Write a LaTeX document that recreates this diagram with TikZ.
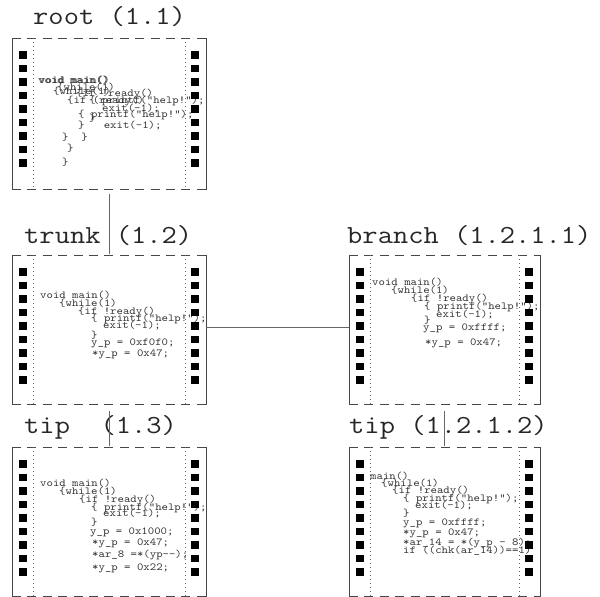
\documentclass[tikz,border=0pt]{standalone}
\usepackage{graphicx}
\usetikzlibrary{fit}
\tikzset{
  x=1pt, y=-1pt,
  side/.style={line width=1pt, draw=black!72, line cap=rect},
  edgedash/.style={line width=1pt, draw=black!72, dash pattern=on 9pt off 6.4pt},
  perf/.style={fill=black},
  guide/.style={draw=black!60, line width=0.7pt, dash pattern=on 0.8pt off 3.2pt},
  link/.style={draw=black!60, line width=0.9pt},
  lbl/.style={font=\fontsize{26}{26}\selectfont\ttfamily, text=black!85, inner sep=0pt, anchor=base west, xscale=1.14},
  code/.style={font=\fontsize{10.7}{10.7}\selectfont\ttfamily, text=black!80, inner sep=0pt, anchor=base west, xscale=1.14},
}
\newcommand\film[5]{%
  \coordinate (#1-nw) at (#2,#3);
  \coordinate (#1-se) at (#4,#5);
  \node[inner sep=0pt, fit=(#1-nw)(#1-se)] (#1) {};
  \draw[side] (#2,#3) -- (#2,#5) (#4,#3) -- (#4,#5);
  \draw[edgedash] (#2,#3) -- (#4,#3) (#2,#5) -- (#4,#5);
  \draw[guide] (#2+21,#3) -- (#2+21,#5) (#4-21,#3) -- (#4-21,#5);
}
\newcommand\perfs[4]{%
  \foreach \k in {0,...,8} {
    \fill[perf] (#1+7,#2+13+13.5*\k) rectangle ++(8,7.5);
    \fill[perf] (#3-15.5,#2+13+13.5*\k) rectangle ++(8,7.5);
  }
}
\newcommand\codeln[4]{\node[code] (#1) at (#2,#3) {#4};}
\begin{document}
\begin{tikzpicture}
\useasboundingbox (0,0) rectangle (600,597);

% frames
\film{root}{12}{38}{206}{189}
\film{trunk}{12}{255}{206}{404}
\film{branch}{349}{255}{540}{404}
\film{tipa}{12}{447}{206}{596}
\film{tipb}{349}{447}{540}{596}

% labels
\node[lbl] (lroot) at (33,24) {root (1.1)};
\node[lbl] (ltrunk) at (24,243) {trunk (1.2)};
\node[lbl] (lbranch) at (347,243) {branch (1.2.1.1)};
\node[lbl] (ltipa) at (24,433) {tip\ \ (1.3)};
\node[lbl] (ltipb) at (349,433) {tip (1.2.1.2)};

% connectors
\draw[link] ([yshift=-5pt]root.south) -- ([yshift=1pt]trunk.north);
\draw[link] ([yshift=-7pt]trunk.south) -- ([yshift=1pt]tipa.north);
\draw[link] ([yshift=-7pt]branch.south) -- ([yshift=1pt]tipb.north);
\draw[link] ([yshift=2pt]trunk.east) -- ([yshift=2pt]trunk.east -| branch.west);

% root code (two superimposed versions)
\codeln{ra1}{39}{83}{void main()}
\codeln{ra2}{53}{94}{\{while(1)}
\codeln{ra3}{67}{103}{\{if (ready()}
\codeln{ra4}{78}{117}{\{ printf("help!");}
\codeln{ra5}{78}{128}{\}\ \ \ exit(-1);}
\codeln{ra6}{62}{140}{\}\ \ \}}
\codeln{ra7}{67}{151}{\}}
\codeln{ra8}{62}{165}{\}}
\codeln{rb1}{38}{83}{void main()}
\codeln{rb2}{57}{90}{\{while(1)}
\codeln{rb3}{76}{96}{\{if !ready()}
\codeln{rb4}{89}{103}{\{ printf("help!");}
\codeln{rb5}{102}{111}{exit(-1);}
\codeln{rb6}{89}{121}{\}}

% trunk code
\codeln{t1}{40}{298}{void main()}
\codeln{t2}{59}{306}{\{while(1)}
\codeln{t3}{78}{314}{\{if !ready()}
\codeln{t4}{91}{321}{\{ printf("help!");}
\codeln{t5}{103}{328}{exit(-1);}
\codeln{t6}{91}{338}{\}}
\codeln{t7}{91}{345}{y\_p = 0xf0f0;}
\codeln{t8}{92}{356}{*y\_p = 0x47;}

% branch code
\codeln{b1}{372}{285}{void main()}
\codeln{b2}{391}{293}{\{while(1)}
\codeln{b3}{411}{301}{\{if !ready()}
\codeln{b4}{424}{309}{\{ printf("help!");}
\codeln{b5}{436}{317}{exit(-1);}
\codeln{b6}{424}{323}{\}}
\codeln{b7}{423}{330}{y\_p = 0xffff;}
\codeln{b8}{425}{345}{*y\_p = 0x47;}

% tip (1.3) code
\codeln{p1}{40}{486}{void main()}
\codeln{p2}{59}{494}{\{while(1)}
\codeln{p3}{79}{502}{\{if !ready()}
\codeln{p4}{91}{510}{\{ printf("help!");}
\codeln{p5}{103}{516}{exit(-1);}
\codeln{p6}{91}{525}{\}}
\codeln{p7}{90}{534}{y\_p = 0x1000;}
\codeln{p8}{92}{545}{*y\_p = 0x47;}
\codeln{p9}{92}{557}{*ar\_8 =*(yp-{}-);}
\codeln{p10}{92}{570}{*y\_p = 0x22;}

% tip (1.2.1.2) code
\codeln{q1}{370}{479}{main()}
\codeln{q2}{381}{486}{\{while(1)}
\codeln{q3}{392}{493}{\{if !ready()}
\codeln{q4}{403}{501}{\{ printf("help!");}
\codeln{q5}{415}{508}{exit(-1);}
\codeln{q6}{403}{516}{\}}
\codeln{q7}{403}{525}{y\_p = 0xffff;}
\codeln{q8}{403}{535}{*y\_p = 0x47;}
\codeln{q9}{403}{545}{*ar\_14 = *(y\_p - 8);}
\codeln{q10}{403}{553}{if ((chk(ar\_14))==1)}

% perforations (on top of text)
\perfs{12}{38}{206}{189}
\perfs{12}{255}{206}{404}
\perfs{349}{255}{540}{404}
\perfs{12}{447}{206}{596}
\perfs{349}{447}{540}{596}
\end{tikzpicture}
\end{document}
